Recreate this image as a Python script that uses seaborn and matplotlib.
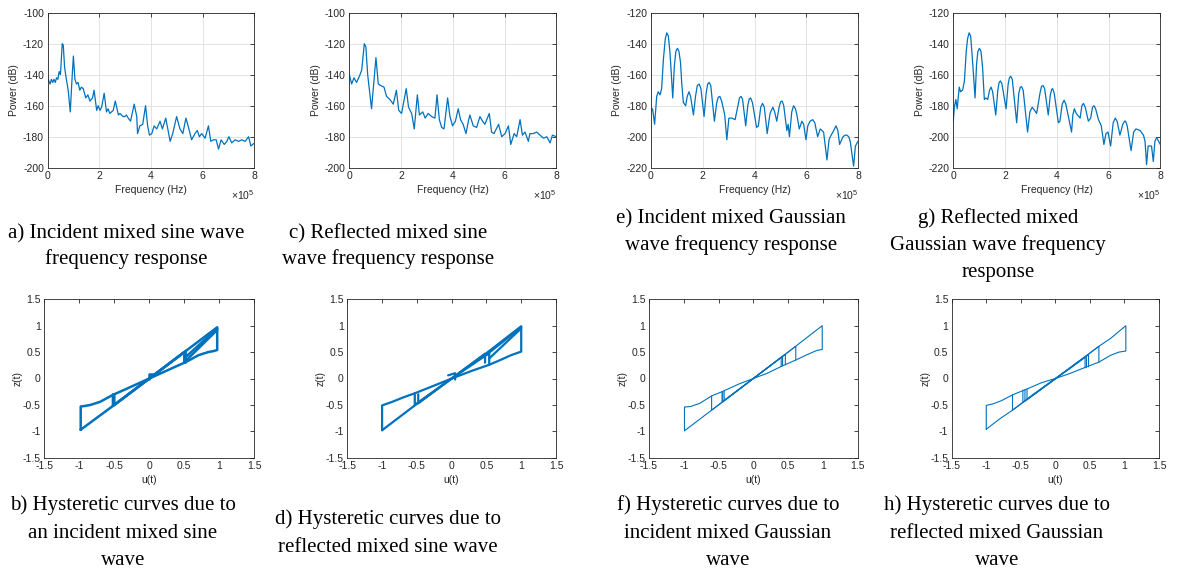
import matplotlib
matplotlib.use("Agg")
import matplotlib.pyplot as plt
import seaborn as sns
import pandas as pd

# ---- frequency responses (frequency in units of 1e5 Hz, power in dB) ----
freq_a = [0.00, 0.05, 0.10, 0.15, 0.20, 0.25, 0.30, 0.35, 0.40, 0.45,
          0.50, 0.57, 0.61, 0.66, 0.71, 0.80, 0.88, 0.94, 1.00, 1.06,
          1.12, 1.18, 1.25, 1.31, 1.38, 1.48, 1.56, 1.64, 1.74, 1.80,
          1.90, 1.96, 2.03, 2.09, 2.19, 2.28, 2.34, 2.41, 2.54, 2.62,
          2.74, 2.80, 2.86, 2.92, 2.99, 3.05, 3.12, 3.21, 3.35, 3.45,
          3.48, 3.57, 3.68, 3.79, 3.87, 3.94, 4.03, 4.12, 4.22, 4.35,
          4.44, 4.57, 4.74, 4.84, 4.99, 5.12, 5.23, 5.35, 5.45, 5.57,
          5.70, 5.79, 5.87, 5.96, 6.09, 6.22, 6.31, 6.41, 6.52, 6.61,
          6.71, 6.83, 6.93, 7.01, 7.12, 7.25, 7.38, 7.51, 7.64, 7.77,
          7.86, 8.00]
power_a = [-141, -144, -146, -143, -145, -143, -145, -142, -143, -138,
           -140, -120, -121, -135, -141, -150, -164, -145, -128, -143,
           -146, -145, -150, -148, -149, -155, -153, -157, -155, -150,
           -163, -160, -163, -161, -152, -164, -162, -165, -163, -157,
           -166, -165, -166, -167, -167, -166, -168, -170, -159, -167,
           -178, -173, -172, -160, -173, -179, -178, -173, -175, -170,
           -175, -168, -183, -178, -167, -175, -178, -168, -174, -182,
           -178, -176, -180, -178, -181, -173, -183, -182, -182, -188,
           -182, -185, -183, -180, -184, -182, -183, -182, -183, -180,
           -186, -184]

freq_c = [0.00, 0.09, 0.18, 0.28, 0.39, 0.48, 0.58, 0.64, 0.71, 0.86,
          1.03, 1.12, 1.21, 1.34, 1.44, 1.57, 1.70, 1.82, 1.91, 2.02,
          2.20, 2.29, 2.41, 2.51, 2.63, 2.71, 2.84, 2.93, 3.05, 3.18,
          3.31, 3.39, 3.48, 3.57, 3.66, 3.80, 3.89, 3.99, 4.10, 4.21,
          4.30, 4.40, 4.51, 4.60, 4.66, 4.79, 4.92, 5.05, 5.15, 5.24,
          5.41, 5.50, 5.59, 5.77, 5.89, 6.02, 6.15, 6.24, 6.37, 6.47,
          6.60, 6.69, 6.79, 6.92, 6.98, 7.11, 7.24, 7.37, 7.51, 7.63,
          7.76, 7.85, 8.00]
power_c = [-140, -146, -142, -145, -141, -137, -120, -122, -140, -162,
           -129, -146, -147, -148, -154, -156, -159, -150, -163, -165,
           -149, -161, -165, -175, -153, -166, -164, -168, -165, -167,
           -168, -153, -169, -174, -175, -155, -167, -173, -170, -162,
           -169, -172, -178, -170, -166, -173, -174, -167, -170, -172,
           -165, -177, -178, -172, -180, -178, -173, -185, -178, -180,
           -169, -179, -177, -183, -178, -178, -177, -179, -181, -180,
           -184, -179, -180]

freq_e = [0.00, 0.06, 0.14, 0.22, 0.28, 0.35, 0.41, 0.48, 0.55, 0.61,
          0.67, 0.73, 0.78, 0.84, 0.90, 0.96, 1.02, 1.08, 1.14, 1.19,
          1.25, 1.34, 1.40, 1.47, 1.53, 1.64, 1.72, 1.79, 1.86, 1.93,
          2.05, 2.13, 2.19, 2.25, 2.31, 2.45, 2.54, 2.60, 2.66, 2.73,
          2.85, 2.93, 3.01, 3.12, 3.25, 3.36, 3.42, 3.48, 3.54, 3.66,
          3.74, 3.80, 3.85, 3.92, 4.08, 4.15, 4.24, 4.31, 4.38, 4.49,
          4.60, 4.71, 4.78, 4.86, 4.95, 5.01, 5.07, 5.13, 5.25, 5.30,
          5.35, 5.44, 5.51, 5.58, 5.64, 5.73, 5.83, 5.90, 5.99, 6.06,
          6.15, 6.25, 6.33, 6.44, 6.54, 6.67, 6.80, 6.88, 6.93, 7.03,
          7.15, 7.22, 7.29, 7.42, 7.50, 7.57, 7.64, 7.70, 7.83, 7.90,
          8.00]
power_e = [-183, -182, -192, -174, -171, -173, -169, -150, -137, -133,
           -135, -145, -158, -175, -155, -145, -143, -145, -152, -166,
           -178, -180, -174, -171, -174, -186, -174, -167, -166, -169,
           -187, -172, -166, -165, -167, -190, -178, -174.5, -174, -177,
           -186, -202, -188, -188, -189, -180, -175, -174, -176, -193,
           -180, -175.5, -175, -178, -194, -193, -181, -178.5, -181, -198,
           -185, -181, -184, -190, -181, -177.5, -177, -180, -196, -192,
           -200, -184, -180, -182, -186, -195, -190, -192, -202, -193,
           -190, -189, -191, -200, -195, -197, -215, -202, -200, -197,
           -193, -196, -205, -200, -199, -199, -200, -203, -219, -206,
           -203]

freq_g = [0.00, 0.04, 0.10, 0.15, 0.23, 0.28, 0.36, 0.43, 0.50, 0.55,
          0.61, 0.67, 0.73, 0.78, 0.84, 0.90, 0.95, 1.01, 1.07, 1.13,
          1.20, 1.26, 1.33, 1.40, 1.46, 1.52, 1.64, 1.72, 1.77, 1.82,
          1.88, 2.04, 2.12, 2.17, 2.22, 2.28, 2.45, 2.53, 2.59, 2.64,
          2.70, 2.87, 2.96, 3.05, 3.14, 3.22, 3.35, 3.41, 3.47, 3.53,
          3.67, 3.75, 3.80, 3.84, 3.90, 4.06, 4.12, 4.21, 4.28, 4.35,
          4.57, 4.62, 4.68, 4.75, 4.90, 4.97, 5.03, 5.10, 5.22, 5.31,
          5.38, 5.44, 5.50, 5.61, 5.72, 5.82, 5.90, 5.98, 6.08, 6.18,
          6.26, 6.33, 6.44, 6.55, 6.62, 6.66, 6.72, 6.87, 6.97, 7.06,
          7.22, 7.35, 7.41, 7.47, 7.53, 7.66, 7.73, 7.79, 7.86, 8.00]
power_g = [-190, -181, -176, -182, -168, -171, -170, -164, -145, -137,
           -133, -135, -148, -160, -175, -153, -145, -143, -145, -155,
           -176, -175, -176, -170, -168, -171, -186, -170, -165, -164,
           -166, -182, -166, -162, -161, -163, -191, -172, -168, -167.7,
           -170, -197, -184, -181, -183, -185, -172, -167.5, -167, -169,
           -186, -173, -169.5, -169, -172, -191, -190, -179, -176.5, -179,
           -197, -186, -182, -185, -188, -180, -178.5, -181, -190, -188,
           -181, -180, -182, -189, -193, -205, -198, -197, -206, -191,
           -188, -190, -199, -192, -190, -190, -193, -209, -197, -195,
           -196, -199, -203, -218, -206, -206, -216, -203, -200.5, -205]

# ---- hysteretic curves: u(t), z(t) and a segment id per point ----
hyst_b_u = [-0.98, -0.98, -0.92, -0.84, -0.70, -0.52, -0.35, -0.15, 0.00, 0.15,
            0.35, 0.52, 0.70, 0.84, 0.92, 0.97, 0.97, 0.50, 0.00, -0.50, -0.98,
            0.52, 0.52, 0.00, -0.52, -0.52,
            -0.50, -0.50, 0.50, 0.50,
            0.54, 0.97, 0.54, 0.97,
            0.00, 0.00, 0.10]
hyst_b_z = [-0.97, -0.53, -0.52, -0.50, -0.44, -0.31, -0.21, -0.09, 0.00, 0.09,
            0.21, 0.31, 0.44, 0.50, 0.52, 0.54, 0.97, 0.50, 0.00, -0.50, -0.97,
            0.30, 0.52, 0.00, -0.52, -0.30,
            -0.31, -0.50, 0.50, 0.31,
            0.36, 0.92, 0.43, 0.95,
            0.00, 0.08, 0.08]
hyst_b_seg = [0] * 21 + [1] * 5 + [2] * 4 + [3, 3, 4, 4] + [5] * 3

hyst_d_u = [-1.00, -1.00, -0.85, -0.70, -0.53, -0.30, 0.00, 0.30, 0.54, 0.70,
            0.85, 1.00, 1.00, 0.50, 0.00, -0.50, -1.00,
            0.54, 0.54, 0.00, -0.53, -0.53,
            0.48, 0.48, -0.48, -0.48,
            0.54, 1.00, 0.50, 1.00,
            -0.05, 0.05, 0.05]
hyst_d_z = [-0.98, -0.51, -0.44, -0.36, -0.28, -0.16, 0.00, 0.15, 0.26, 0.35,
            0.44, 0.51, 0.99, 0.48, 0.00, -0.48, -0.98,
            0.26, 0.48, 0.00, -0.50, -0.28,
            0.30, 0.47, -0.47, -0.30,
            0.38, 0.95, 0.45, 0.97,
            0.06, 0.10, -0.02]
hyst_d_seg = [0] * 17 + [1] * 5 + [2] * 4 + [3, 3, 4, 4] + [5] * 3

hyst_f_u = [-0.99, -0.99, -0.90, -0.77, -0.60, -0.45, -0.20, 0.00, 0.20, 0.42,
            0.61, 0.77, 0.91, 0.99, 0.99, 0.50, 0.00, -0.50, -0.99,
            0.61, 0.61, -0.60, -0.60,
            0.46, 0.46, -0.45, -0.45,
            0.42, 0.42, -0.42, -0.42,
            0.40, 0.40, -0.44, -0.44]
hyst_f_z = [-0.99, -0.54, -0.53, -0.47, -0.33, -0.25, -0.10, 0.00, 0.10, 0.24,
            0.35, 0.45, 0.53, 0.55, 1.00, 0.50, 0.00, -0.50, -0.99,
            0.35, 0.61, -0.60, -0.33,
            0.26, 0.46, -0.45, -0.25,
            0.24, 0.42, -0.42, -0.23,
            0.23, 0.40, -0.44, -0.25]
hyst_f_seg = [0] * 19 + [1] * 4 + [2] * 4 + [3] * 4 + [4] * 4

hyst_h_u = [-1.00, -1.00, -0.90, -0.78, -0.62, -0.45, -0.20, 0.00, 0.20, 0.45,
            0.63, 0.80, 0.92, 1.02, 1.02, 0.80, 0.63, 0.30, 0.00, -0.30,
            -0.62, -0.80, -1.00,
            0.63, 0.63, -0.62, -0.62,
            0.48, 0.48, -0.47, -0.47,
            0.45, 0.45, -0.44, -0.44,
            0.43, 0.43, -0.41, -0.41]
hyst_h_z = [-0.96, -0.51, -0.48, -0.42, -0.31, -0.22, -0.08, 0.00, 0.09, 0.22,
            0.31, 0.44, 0.50, 0.52, 1.00, 0.76, 0.61, 0.28, 0.00, -0.28,
            -0.60, -0.76, -0.96,
            0.31, 0.61, -0.60, -0.31,
            0.22, 0.45, -0.45, -0.22,
            0.21, 0.43, -0.43, -0.21,
            0.20, 0.40, -0.40, -0.20]
hyst_h_seg = [0] * 23 + [1] * 4 + [2] * 4 + [3] * 4 + [4] * 4

captions_top = [
    ["a) Incident mixed sine wave", "frequency response"],
    ["c) Reflected mixed sine", "wave frequency response"],
    ["e) Incident mixed Gaussian", "wave frequency response"],
    ["g) Reflected mixed", "Gaussian wave frequency", "response"],
]
captions_bottom = [
    ["b) Hysteretic curves due to", "an incident mixed sine", "wave"],
    ["d) Hysteretic curves due to", "reflected mixed sine wave"],
    ["f) Hysteretic curves due to", "incident mixed Gaussian", "wave"],
    ["h) Hysteretic curves due to", "reflected mixed Gaussian", "wave"],
]

sns.set_style("white")
plt.rcParams["font.family"] = ["Liberation Sans", "DejaVu Sans"]
plt.rcParams["axes.unicode_minus"] = False
plt.rcParams["mathtext.default"] = "regular"

BLUE = "#0072BD"
DARK = "#262626"
W, H = 1186, 570

fig = plt.figure(figsize=(W / 100, H / 100), dpi=100)


def box(px_left, px_top, px_w, px_h):
    return [px_left / W, 1 - (px_top + px_h) / H, px_w / W, px_h / H]


def matlab_look(ax):
    for s in ax.spines.values():
        s.set_color(DARK)
        s.set_linewidth(0.6)
    ax.tick_params(direction="in", length=3, width=0.6, colors=DARK,
                   labelsize=7.5, top=True, right=True, pad=2.5)


def spectrum(ax, f, p, ylim, yticks):
    df = pd.DataFrame({"f": f, "p": p})
    sns.lineplot(data=df, x="f", y="p", ax=ax, color=BLUE, linewidth=0.9,
                 sort=False, estimator=None)
    ax.set_xlim(0, 8)
    ax.set_ylim(*ylim)
    ax.set_xticks([0, 2, 4, 6, 8])
    ax.set_xticklabels(["0", "2", "4", "6", "8"])
    ax.set_yticks(yticks)
    ax.set_yticklabels([str(v) for v in yticks])
    ax.grid(True, color="#dedede", linewidth=0.6)
    ax.set_axisbelow(True)
    ax.set_xlabel("Frequency (Hz)", fontsize=7.5, color=DARK, labelpad=3)
    ax.set_ylabel("Power (dB)", fontsize=7.5, color=DARK, labelpad=3)
    ax.text(1.0, -0.175, r"$\times10^{5}$", transform=ax.transAxes,
            ha="right", va="center", fontsize=7.5, color=DARK)
    matlab_look(ax)


def hysteresis(ax, u, z, seg, lw):
    df = pd.DataFrame({"u": u, "z": z, "seg": seg})
    sns.lineplot(data=df, x="u", y="z", units="seg", ax=ax, color=BLUE,
                 linewidth=lw, sort=False, estimator=None)
    ticks = [-1.5, -1, -0.5, 0, 0.5, 1, 1.5]
    labels = ["-1.5", "-1", "-0.5", "0", "0.5", "1", "1.5"]
    ax.set_xlim(-1.5, 1.5)
    ax.set_ylim(-1.5, 1.5)
    ax.set_xticks(ticks)
    ax.set_xticklabels(labels)
    ax.set_yticks(ticks)
    ax.set_yticklabels(labels)
    ax.set_xlabel("u(t)", fontsize=7.5, color=DARK, labelpad=3)
    ax.set_ylabel("z(t)", fontsize=7.5, color=DARK, labelpad=0)
    matlab_look(ax)


spec_lefts = [47.5, 349.3, 651.0, 953.3]
spec_data = [(freq_a, power_a, (-200, -100), [-200, -180, -160, -140, -120, -100]),
             (freq_c, power_c, (-200, -100), [-200, -180, -160, -140, -120, -100]),
             (freq_e, power_e, (-220, -120), [-220, -200, -180, -160, -140, -120]),
             (freq_g, power_g, (-220, -120), [-220, -200, -180, -160, -140, -120])]
for left, (f, p, yl, yt) in zip(spec_lefts, spec_data):
    ax = fig.add_axes(box(left, 12.7, 207, 155))
    spectrum(ax, f, p, yl, yt)

hyst_lefts = [44.3, 347.3, 649.0, 951.7]
hyst_widths = [210, 208.7, 208.7, 207.3]
hyst_data = [(hyst_b_u, hyst_b_z, hyst_b_seg, 1.8),
             (hyst_d_u, hyst_d_z, hyst_d_seg, 1.6),
             (hyst_f_u, hyst_f_z, hyst_f_seg, 0.8),
             (hyst_h_u, hyst_h_z, hyst_h_seg, 0.8)]
for left, w, (u, z, s, lw) in zip(hyst_lefts, hyst_widths, hyst_data):
    ax = fig.add_axes(box(left, 299.3, w, 158.4))
    hysteresis(ax, u, z, s, lw)

# captions (Times-like serif), centres and baselines in pixels
top_centres = [126, 388, 731, 998]
top_baselines = [[238, 264], [238, 264], [223, 250], [223, 250, 277]]
bot_centres = [123, 388, 728, 997]
bot_baselines = [[510, 538, 565], [524, 552], [510, 538, 565], [510, 538, 565]]

for caps, centres, bases in [(captions_top, top_centres, top_baselines),
                             (captions_bottom, bot_centres, bot_baselines)]:
    for lines, cx, ys in zip(caps, centres, bases):
        for line, y in zip(lines, ys):
            fig.text(cx / W, 1 - y / H, line, ha="center", va="baseline",
                     fontsize=15, family="Liberation Serif", color="black")

fig.savefig("out.png", dpi=100)
